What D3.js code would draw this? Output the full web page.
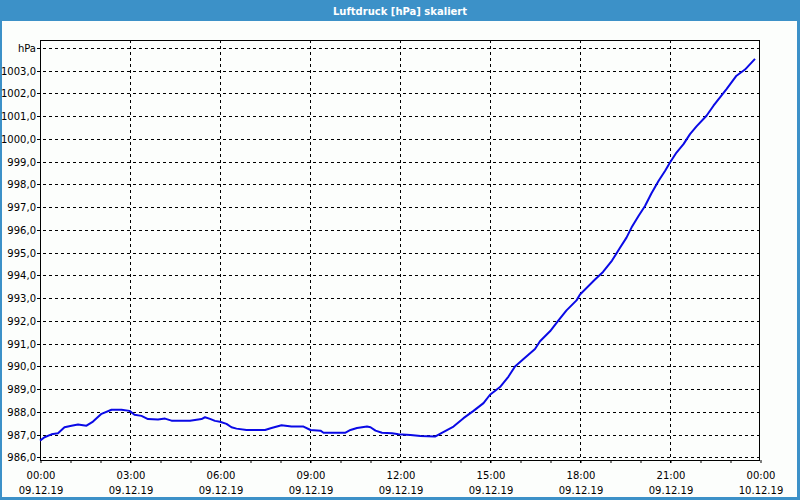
<!DOCTYPE html>
<html><head><meta charset="utf-8">
<script src="https://cdn.jsdelivr.net/npm/d3@7"></script>
<style>body{margin:0;background:#fff;} svg{display:block;}</style>
</head><body>
<svg id="c" width="800" height="500"></svg>
<script>
const title = "Luftdruck [hPa] skaliert";
const unitLabel = "hPa";
const unitTickValue = 1004;

// measurement times (09.12.19) and pressure values in hPa
const times = ["00:00","00:09","00:23","00:36","00:49","01:03","01:16","01:33","01:46","02:03",
  "02:23","02:43","02:59","03:09","03:23","03:36","03:56","04:10","04:23","05:00",
  "05:23","05:30","05:40","05:50","06:00","06:13","06:23","06:33","06:53","07:30",
  "07:43","08:03","08:23","08:47","09:01","09:21","09:27","10:11","10:21","10:34",
  "10:54","11:01","11:11","11:24","11:44","11:57","12:21","12:41","13:10","13:20",
  "13:47","14:07","14:27","14:47","15:00","15:20","15:37","15:50","16:07","16:30",
  "16:40","17:00","17:17","17:33","17:53","18:00","18:30","18:46","19:04","19:20",
  "19:33","19:43","19:57","20:10","20:23","20:37","20:50","21:00","21:13","21:27",
  "21:40","21:53","22:13","22:27","22:40","22:53","23:13","23:30","23:50"];
const values = [986.73,986.88,987.01,987.06,987.32,987.39,987.44,987.39,987.57,987.91,
  988.09,988.09,988.04,987.87,987.82,987.68,987.66,987.70,987.61,987.61,
  987.68,987.76,987.69,987.60,987.56,987.47,987.32,987.26,987.20,987.20,
  987.29,987.41,987.35,987.35,987.20,987.17,987.08,987.08,987.20,987.29,
  987.35,987.32,987.17,987.08,987.06,987.01,986.98,986.94,986.91,987.03,
  987.35,987.72,988.04,988.38,988.75,989.09,989.55,989.99,990.32,990.76,
  991.10,991.54,992.02,992.46,992.90,993.16,993.82,994.15,994.65,995.21,
  995.66,996.10,996.61,997.05,997.61,998.15,998.59,998.96,999.40,999.77,
  1000.21,1000.55,1001.02,1001.46,1001.83,1002.19,1002.78,1003.05,1003.52];

const yTickValues = [986,987,988,989,990,991,992,993,994,995,996,997,998,999,1000,1001,1002,1003];
const xTickStamps = ["2019-12-09 00:00","2019-12-09 03:00","2019-12-09 06:00","2019-12-09 09:00",
  "2019-12-09 12:00","2019-12-09 15:00","2019-12-09 18:00","2019-12-09 21:00","2019-12-10 00:00"];
const xTickTimeLabels = ["00:00","03:00","06:00","09:00","12:00","15:00","18:00","21:00","00:00"];
const xTickDateLabels = ["09.12.19","09.12.19","09.12.19","09.12.19","09.12.19","09.12.19","09.12.19","09.12.19","10.12.19"];

const parse = d3.timeParse("%Y-%m-%d %H:%M");
const data = times.map((t, i) => ({t: parse("2019-12-09 " + t), v: values[i]}));
const xTicks = xTickStamps.map(parse);

const L = 40, R = 760, T = 40, B = 460;
const x = d3.scaleTime().domain([xTicks[0], xTicks[xTicks.length - 1]]).range([L, R]);
const y = d3.scaleLinear().domain([985.88, 1004.35]).range([B, T]);

const svg = d3.select("#c");
const blue = "#3c91c8";
const font = "'DejaVu Sans', Verdana, sans-serif";

svg.append("rect").attr("width", 800).attr("height", 500).attr("fill", blue);
svg.append("rect").attr("x", 2).attr("y", 21).attr("width", 795).attr("height", 476).attr("fill", "#fcfefc");

svg.append("text").attr("x", 400).attr("y", 15).attr("text-anchor", "middle")
  .attr("font-family", font).attr("font-weight", "bold").attr("font-size", 10)
  .attr("fill", "#fff").text(title);

const px = v => Math.round(v) + 0.5;

// horizontal grid
const hVals = yTickValues.concat([unitTickValue]);
svg.append("g").selectAll("line").data(hVals).join("line")
  .attr("x1", L - 3).attr("x2", R).attr("y1", d => px(y(d))).attr("y2", d => px(y(d)))
  .attr("stroke", "#000").attr("stroke-dasharray", "3,3");

// vertical grid
svg.append("g").selectAll("line").data(xTicks.slice(1, -1)).join("line")
  .attr("x1", d => px(x(d))).attr("x2", d => px(x(d))).attr("y1", T).attr("y2", B + 3)
  .attr("stroke", "#000").attr("stroke-dasharray", "3,3");

// minor hourly ticks via axis
const xAxis = d3.axisBottom(x).ticks(d3.timeHour.every(1)).tickSize(3).tickFormat("");
const ga = svg.append("g").attr("transform", `translate(0.5,${B})`).call(xAxis);
ga.select(".domain").remove();
ga.selectAll("line").attr("stroke", "#000");

// frame
svg.append("rect").attr("x", L + 0.5).attr("y", T + 0.5).attr("width", R - L - 1).attr("height", B - T)
  .attr("fill", "none").attr("stroke", "#000");

// y labels
const fmt = d3.format(".1f");
svg.append("g").selectAll("text").data(yTickValues).join("text")
  .attr("x", 36).attr("y", d => Math.round(y(d)) + 4).attr("text-anchor", "end")
  .attr("font-family", font).attr("font-size", 10).attr("fill", "#000")
  .text(d => fmt(d).replace(".", ","));
svg.append("text").attr("x", 36).attr("y", Math.round(y(unitTickValue)) + 4).attr("text-anchor", "end")
  .attr("font-family", font).attr("font-size", 10).attr("fill", "#000").text(unitLabel);

// x labels
const xl = svg.append("g").selectAll("g").data(xTicks).join("g");
xl.append("text").attr("x", d => x(d) + 1).attr("y", 479).attr("text-anchor", "middle")
  .attr("font-family", font).attr("font-size", 10).attr("fill", "#000")
  .text((d, i) => xTickTimeLabels[i]);
xl.append("text").attr("x", d => x(d) + 1).attr("y", 493.5).attr("text-anchor", "middle")
  .attr("font-family", font).attr("font-size", 10).attr("fill", "#000")
  .text((d, i) => xTickDateLabels[i]);

// line
const line = d3.line().x(d => x(d.t)).y(d => y(d.v));
svg.append("path").datum(data).attr("d", line).attr("fill", "none")
  .attr("stroke", "#0a0ae6").attr("stroke-width", 2).attr("stroke-linejoin", "round");
</script>
</body></html>
